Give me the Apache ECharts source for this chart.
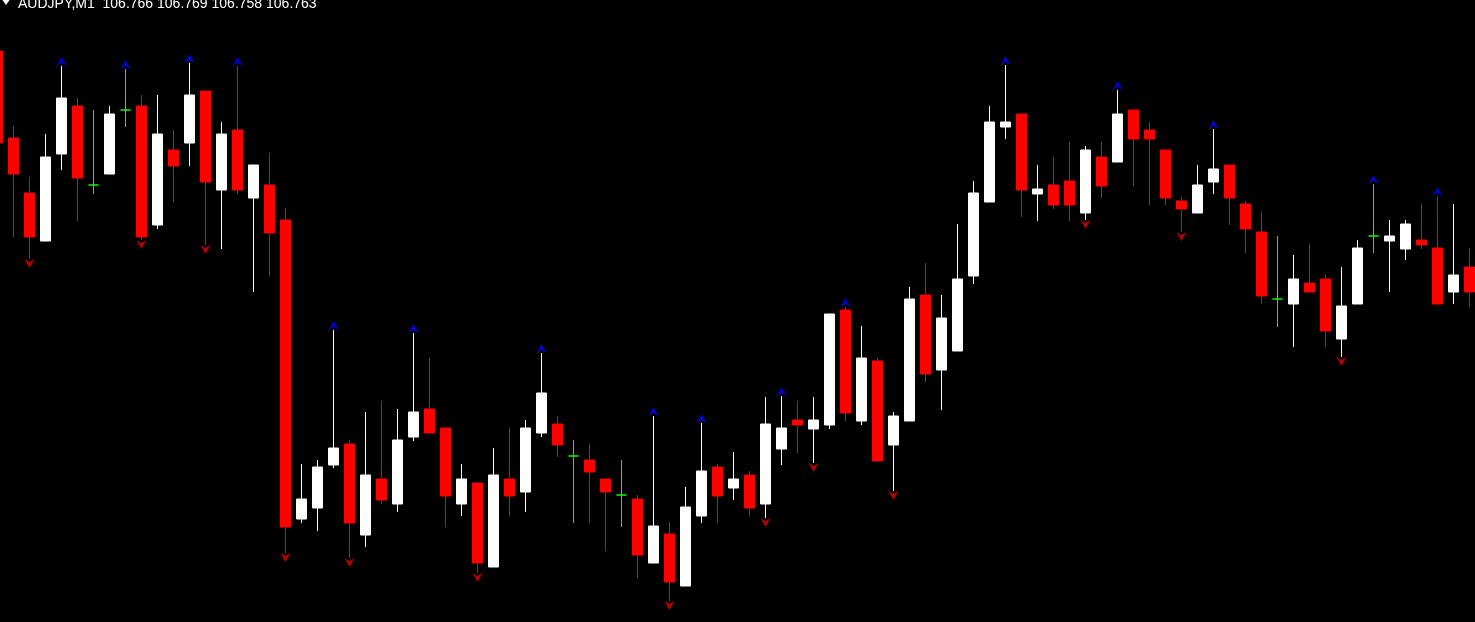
<!DOCTYPE html>
<html><head><meta charset="utf-8">
<script src="https://cdn.jsdelivr.net/npm/echarts@6/dist/echarts.min.js"></script>
<style>html,body{margin:0;padding:0;background:#000;overflow:hidden}#c{width:1475px;height:622px}</style>
</head><body><div id="c"></div>
<script>
const symbolName = 'AUDJPY,M1';
const headerQuotes = ['106.766', '106.769', '106.758', '106.763'];

const open = [106.7949,106.7862,106.7807,106.7759,106.7846,106.7894,106.7815,106.7826,106.7890,106.7894,
106.7775,106.7850,106.7857,106.7909,106.7810,106.7870,106.7802,106.7815,106.7780,106.7481,
106.7492,106.7535,106.7556,106.7465,106.7521,106.7496,106.7563,106.7591,106.7572,106.7496,
106.7517,106.7433,106.7521,106.7508,106.7567,106.7576,106.7544,106.7540,106.7521,106.7505,
106.7501,106.7437,106.7466,106.7414,106.7484,106.7533,106.7512,106.7525,106.7496,106.7551,
106.7580,106.7571,106.7575,106.7690,106.7579,106.7639,106.7555,106.7579,106.7705,106.7630,
106.7649,106.7724,106.7798,106.7873,106.7886,106.7806,106.7815,106.7819,106.7787,106.7843,
106.7838,106.7890,106.7870,106.7850,106.7799,106.7787,106.7818,106.7835,106.7796,106.7768,
106.7701,106.7696,106.7717,106.7721,106.7661,106.7696,106.7764,106.7759,106.7751,106.7760,
106.7752,106.7708,106.7733];

const high = [106.7949,106.7874,106.7823,106.7866,106.7934,106.7902,106.7890,106.7894,106.7931,106.7905,
106.7905,106.7870,106.7937,106.7909,106.7878,106.7934,106.7835,106.7847,106.7792,106.7536,
106.7540,106.7670,106.7560,106.7588,106.7599,106.7591,106.7667,106.7642,106.7572,106.7536,
106.7517,106.7552,106.7572,106.7580,106.7647,106.7584,106.7560,106.7556,106.7521,106.7540,
106.7505,106.7584,106.7478,106.7513,106.7577,106.7536,106.7548,106.7529,106.7603,106.7604,
106.7599,106.7603,106.7686,106.7693,106.7674,106.7642,106.7588,106.7713,106.7737,106.7705,
106.7776,106.7819,106.7894,106.7935,106.7886,106.7835,106.7843,106.7858,106.7854,106.7858,
106.7910,106.7890,106.7878,106.7850,106.7803,106.7835,106.7871,106.7835,106.7799,106.7788,
106.7764,106.7745,106.7756,106.7725,106.7733,106.7760,106.7816,106.7780,106.7780,106.7796,
106.7804,106.7796,106.7752];

const low = [106.7857,106.7763,106.7741,106.7759,106.7830,106.7779,106.7806,106.7826,106.7873,106.7760,
106.7771,106.7798,106.7834,106.7755,106.7751,106.7806,106.7708,106.7724,106.7447,106.7477,
106.7469,106.7532,106.7442,106.7453,106.7496,106.7488,106.7559,106.7567,106.7473,106.7484,
106.7427,106.7433,106.7484,106.7488,106.7563,106.7543,106.7477,106.7477,106.7449,106.7473,
106.7422,106.7437,106.7399,106.7414,106.7477,106.7477,106.7500,106.7484,106.7482,106.7535,
106.7547,106.7537,106.7571,106.7579,106.7575,106.7539,106.7509,106.7579,106.7618,106.7590,
106.7649,106.7716,106.7798,106.7861,106.7783,106.7779,106.7791,106.7779,106.7780,106.7802,
106.7838,106.7814,106.7795,106.7795,106.7768,106.7787,106.7806,106.7775,106.7747,106.7696,
106.7673,106.7653,106.7708,106.7653,106.7643,106.7696,106.7747,106.7708,106.7740,106.7751,
106.7696,106.7696,106.7693];

const close = [106.7857,106.7826,106.7763,106.7843,106.7902,106.7822,106.7815,106.7886,106.7890,106.7763,
106.7866,106.7834,106.7905,106.7818,106.7866,106.7810,106.7835,106.7767,106.7473,106.7501,
106.7533,106.7552,106.7477,106.7525,106.7500,106.7560,106.7588,106.7567,106.7504,106.7521,
106.7437,106.7525,106.7504,106.7572,106.7607,106.7555,106.7544,106.7528,106.7508,106.7505,
106.7445,106.7474,106.7418,106.7493,106.7529,106.7504,106.7521,106.7492,106.7576,106.7572,
106.7575,106.7580,106.7686,106.7587,106.7642,106.7539,106.7584,106.7701,106.7626,106.7682,
106.7721,106.7807,106.7878,106.7878,106.7810,106.7811,106.7795,106.7795,106.7850,106.7814,
106.7886,106.7861,106.7861,106.7802,106.7791,106.7815,106.7831,106.7802,106.7771,106.7704,
106.7701,106.7721,106.7708,106.7669,106.7694,106.7752,106.7764,106.7764,106.7776,106.7755,
106.7696,106.7725,106.7708];

// bar indices carrying fractal arrows
const upFractals = [4, 8, 12, 15, 21, 26, 34, 41, 44, 49, 53, 63, 70, 76, 86, 90];
const downFractals = [2, 9, 13, 18, 22, 30, 42, 48, 51, 56, 68, 74, 84];

const categories = open.map((_, i) => String(i));
const candleData = open.map((o, i) => [o, close[i], low[i], high[i]]);
const upData = upFractals.map(i => [i, high[i]]);
const downData = downFractals.map(i => [i, low[i]]);

const chart = echarts.init(document.getElementById('c'), null, {renderer: 'canvas'});
chart.setOption({
  backgroundColor: '#000000',
  animation: false,
  grid: {left: -10.5, top: 0, width: 1488, height: 622, containLabel: false, outerBoundsMode: 'none'},
  xAxis: {type: 'category', data: categories, boundaryGap: true,
    axisLine: {show: false}, axisTick: {show: false}, axisLabel: {show: false}, splitLine: {show: false}},
  yAxis: {type: 'value', min: 106.7378, max: 106.8, scale: true,
    axisLine: {show: false}, axisTick: {show: false}, axisLabel: {show: false}, splitLine: {show: false}},
  series: [
    {type: 'candlestick', data: candleData, barWidth: 10,
      itemStyle: {color: '#ffffff', color0: '#ff0000', borderColor: '#ffffff', borderColor0: '#ff0000',
        borderColorDoji: '#00ff00', borderWidth: 1}},
    {type: 'scatter', data: upData, symbol: 'path://M5,0L10,9L5,6L0,9Z', symbolSize: [10, 9],
      symbolOffset: [0, -4.5], itemStyle: {color: '#0000ff'}, z: 5},
    {type: 'scatter', data: downData, symbol: 'path://M0,0L5,3L10,0L5,9Z', symbolSize: [10, 9],
      symbolOffset: [0, 4.5], itemStyle: {color: '#e00000'}, z: 5}
  ],
  graphic: [
    {type: 'polygon', shape: {points: [[1, -2], [11, -2], [6, 5]]}, style: {fill: '#ffffff'}, z: 10},
    {type: 'text', x: 18, y: -3, z: 10,
      style: {text: symbolName + '  ' + headerQuotes.join(' '), fill: '#ffffff',
        font: '14px "Liberation Sans", Arial, sans-serif', verticalAlign: 'top', align: 'left'}}
  ]
});
</script></body></html>
